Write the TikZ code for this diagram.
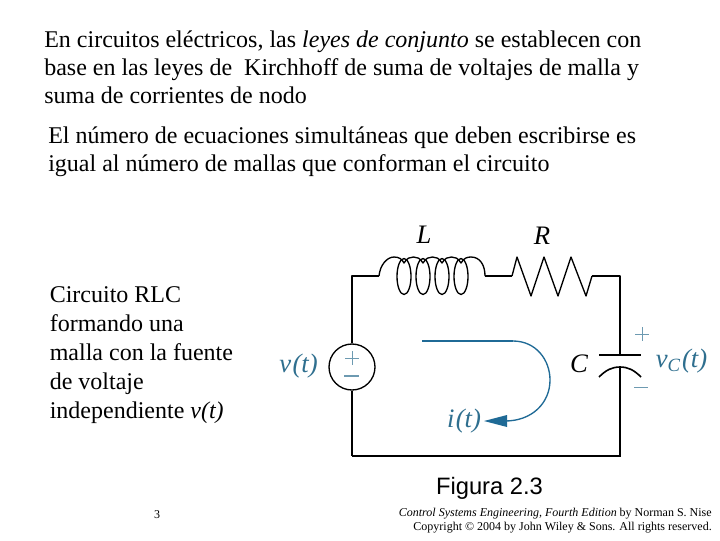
\documentclass[tikz,border=0pt]{standalone}
\usepackage{fontspec}
\setmainfont{Liberation Serif}
\newfontfamily\arialf{Liberation Sans}
\usetikzlibrary{arrows.meta}
\definecolor{cblue}{HTML}{1F6A96}
\definecolor{clab}{HTML}{2F6F8F}
\tikzset{
  x=0.75pt,y=-0.75pt,
  body/.style={anchor=west,align=left,inner sep=0pt,font=\fontsize{18}{21}\selectfont},
  side/.style={anchor=west,align=left,inner sep=0pt,font=\fontsize{18}{21.8}\selectfont},
  wire/.style={draw=black,line width=1pt,line join=round},
  thick wire/.style={draw=black,line width=1.6pt},
  sym/.style={inner sep=0pt,font=\fontsize{20}{22}\selectfont\itshape},
  symb/.style={sym,text=clab},
  sign/.style={draw=clab!70,line width=0.6pt},
  cur/.style={draw=cblue,line width=1pt},
}
\begin{document}
\begin{tikzpicture}
\useasboundingbox (0,0) rectangle (720,540);
\fill[white] (0,0) rectangle (720,540);
\node[body] (intro) at (44,67.5) {En circuitos eléctricos, las \textit{leyes de conjunto} se establecen con\\base en las leyes de\ \ Kirchhoff de suma de voltajes de malla y\\suma de corrientes de nodo};
\node[body] (eqs) at (48,152) {El número de ecuaciones simultáneas que deben escribirse es\\igual al número de mallas que conforman el circuito};
\node[side] (desc) at (49.5,355) {Circuito RLC\\formando una\\malla con la fuente\\de voltaje\\independiente \textit{v(t)}};

\node[circle,draw=black,line width=1pt,minimum size=34.5pt,inner sep=0pt] (src) at (352,367) {};
\coordinate (tl) at (352,276);
\coordinate (bl) at (352,456);
\coordinate (tr) at (620,276);
\coordinate (br) at (620,456);
\coordinate (lin) at (379,276);
\coordinate (lout) at (485,276);
\coordinate (rin) at (512,276);
\coordinate (rout) at (592,276);
\coordinate (cp1) at (620,355);
\coordinate (cp2) at (620,367);
\draw[wire] (src.north) -- (tl) -- (lin);
\draw[wire] (lout) -- (rin);
\draw[wire] (rout) -- (tr) -- (cp1);
\draw[wire] (src.south) -- (bl);
\draw[thick wire] (bl) -- (br) -- (cp2);
% inductor
\draw[wire] (lin) .. controls (380,265) and (387,257) .. (394,257)
  .. controls (399,257) and (402,259) .. (404,263)
  .. controls (407,258) and (410,257) .. (413.5,257)
  .. controls (417,257) and (420,258) .. (423,263)
  .. controls (426,258) and (429,257) .. (432.5,257)
  .. controls (436,257) and (439,258) .. (442,263)
  .. controls (445,258) and (448,257) .. (451.5,257)
  .. controls (455,257) and (458,258) .. (461,263)
  .. controls (464,258) and (467,257) .. (471,257)
  .. controls (480,257) and (485,265) .. (lout);
\foreach \cx in {404,423,442,461} \draw[wire] (\cx,276.5) ellipse [x radius=7,y radius=18];
% resistor
\draw[wire] (rin) -- (517,257) -- (531,296) -- (544,257) -- (558,296) -- (571,257) -- (586,296) -- (rout);
% capacitor
\draw[wire] (599,355) -- (641,355);
\draw[wire,line width=1.2pt] (599,377) .. controls (606,370) and (612,367) .. (620,367) .. controls (628,367) and (634,370) .. (641,377);
% current
\coordinate (cs) at (422,341);
\coordinate (tip) at (484,421);
\draw[cur,line width=1.4pt] (cs) -- (513,341);
\draw[cur] (513,341) .. controls (536,341) and (550,360) .. (550,380) .. controls (550,403) and (532,421) .. (505,421);
\fill[cblue] (tip) -- (507,415) -- (507,427) -- cycle;
% signs
\draw[sign] (345,358) -- (359,358) (352,351) -- (352,365);
\draw[sign,line width=0.9pt] (344,376) -- (359,376);
\draw[sign] (635,334) -- (649,334) (642,327) -- (642,341);
\draw[sign] (634,387) -- (648,387);
% labels
\node[sym] (L) at (424,235) {L};
\node[sym] (R) at (542,236) {R};
\node[sym] (C) at (579,364) {C};
\node[symb] (vt) at (298.5,366) {v\kern1pt(t)};
\node[symb] (vc) at (681.5,361) {v\textsubscript{C}\kern1pt(t)};
\node[symb] (it) at (464,421) {i\kern1pt(t)};

\node[inner sep=0pt,font=\arialf\fontsize{17.8}{20}\selectfont] (fig) at (489.5,488) {Figura 2.3};
\node[inner sep=0pt,font=\fontsize{9}{10}\selectfont] (page) at (157,515) {3};
\node[anchor=east,align=right,inner sep=0pt,font=\fontsize{9}{10}\selectfont] (cr) at (712,520.5) {\textit{Control Systems Engineering, Fourth Edition} by Norman S. Nise\\Copyright © 2004 by John Wiley \& Sons. All rights reserved.};
\end{tikzpicture}
\end{document}
